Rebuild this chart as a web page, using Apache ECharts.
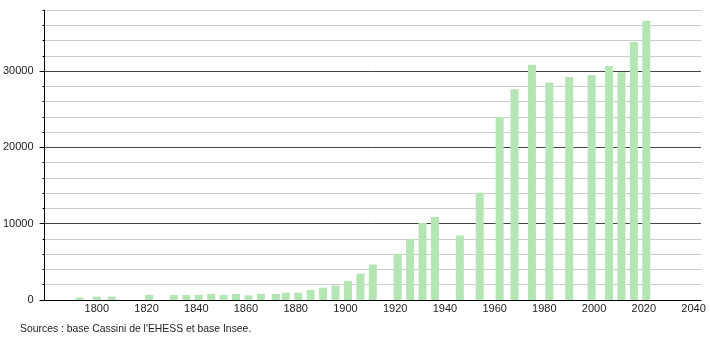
<!DOCTYPE html>
<html>
<head>
<meta charset="utf-8">
<script src="https://cdn.jsdelivr.net/npm/echarts@6/dist/echarts.min.js"></script>
<style>
html,body{margin:0;padding:0;background:#fff;}
#chart{width:710px;height:340px;}
</style>
</head>
<body>
<div id="chart"></div>
<script>
var years = [1793,1800,1806,1821,1831,1836,1841,1846,1851,1856,1861,1866,1872,1876,1881,1886,1891,1896,1901,1906,1911,1921,1926,1931,1936,1946,1954,1962,1968,1975,1982,1990,1999,2006,2011,2016,2021];
var population = [320,440,440,660,660,660,660,790,660,790,620,790,790,960,960,1320,1620,1880,2500,3460,4650,6050,7990,10090,10880,8460,14040,23990,27630,30830,28510,29210,29470,30660,29830,33820,36580];
var xTickLabels = [1800,1820,1840,1860,1880,1900,1920,1940,1960,1980,2000,2020,2040];
var yTickLabels = [0,10000,20000,30000];
var sourceText = "Sources : base Cassini de l'EHESS et base Insee.";

var FONT = '"Liberation Sans", Arial, sans-serif';
var chart = echarts.init(document.getElementById('chart'), null, {renderer: 'canvas'});
var data = years.map(function (y, i) { return [y, population[i]]; });
var plain = function (v) { return String(v); };

chart.setOption({
  animation: false,
  backgroundColor: '#ffffff',
  grid: {left: 43, right: 9, top: 10, bottom: 40, containLabel: false},
  xAxis: {
    type: 'value',
    min: 1779,
    max: 2043,
    axisLine: {show: true, onZero: false, lineStyle: {color: '#000', width: 1}},
    axisTick: {show: false},
    splitLine: {show: false},
    axisLabel: {
      customValues: xTickLabels,
      formatter: plain,
      color: '#222', fontSize: 11, fontFamily: FONT, margin: 3,
      showMinLabel: true, showMaxLabel: true
    }
  },
  yAxis: [{
    type: 'value',
    min: 0,
    max: 38000,
    interval: 2000,
    axisLine: {show: true, lineStyle: {color: '#000', width: 1}},
    axisTick: {show: true, length: 2, lineStyle: {color: '#000'}},
    axisLabel: {
      customValues: yTickLabels,
      formatter: plain,
      color: '#222', fontSize: 11, fontFamily: FONT, margin: 11
    },
    splitLine: {show: true, lineStyle: {color: ['#444', '#cccccc', '#cccccc', '#cccccc', '#cccccc'], width: 1}}
  }, {
    type: 'value',
    position: 'left',
    min: 0,
    max: 38000,
    interval: 2000,
    axisLine: {show: false},
    axisTick: {show: true, length: 5, customValues: yTickLabels, lineStyle: {color: '#000'}},
    axisLabel: {show: false},
    splitLine: {show: false}
  }],
  series: [{
    type: 'bar',
    data: data,
    barWidth: 8,
    itemStyle: {color: '#b3e6b3'},
    emphasis: {disabled: true}
  }],
  graphic: [{
    type: 'text',
    left: 20,
    top: 324,
    style: {text: sourceText, fill: '#222', fontSize: 10.4, fontFamily: FONT}
  }]
});
</script>
</body>
</html>
